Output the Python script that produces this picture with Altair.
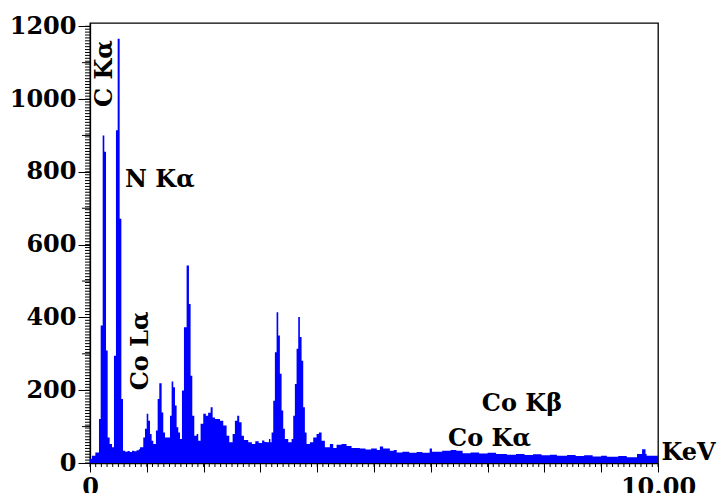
import altair as alt
import pandas as pd

kev = [0.000, 0.035, 0.094, 0.158, 0.188, 0.223, 0.252, 0.282, 0.311, 0.346,
       0.387, 0.422, 0.457, 0.487, 0.522, 0.552, 0.581, 0.620, 0.660, 0.700,
       0.740, 0.780, 0.820, 0.860, 0.880, 0.938, 0.968, 0.998, 1.026, 1.056,
       1.085, 1.114, 1.161, 1.191, 1.220, 1.261, 1.290, 1.320, 1.408, 1.437,
       1.466, 1.496, 1.525, 1.554, 1.584, 1.619, 1.654, 1.701, 1.742, 1.771,
       1.801, 1.836, 1.877, 1.906, 1.947, 1.994, 2.040, 2.080, 2.124, 2.159,
       2.200, 2.288, 2.346, 2.405, 2.452, 2.511, 2.551, 2.592, 2.627, 2.669,
       2.710, 2.786, 2.850, 2.910, 2.970, 3.030, 3.070, 3.109, 3.150, 3.175,
       3.197, 3.226, 3.255, 3.285, 3.314, 3.343, 3.373, 3.402, 3.431, 3.490,
       3.549, 3.578, 3.607, 3.637, 3.666, 3.695, 3.725, 3.754, 3.783, 3.813,
       3.871, 3.930, 3.989, 4.030, 4.077, 4.135, 4.223, 4.282, 4.341, 4.429,
       4.517, 4.605, 4.751, 4.850, 4.950, 5.050, 5.103, 5.160, 5.279, 5.350,
       5.400, 5.500, 5.620, 5.750, 5.850, 5.980, 6.020, 6.200, 6.350, 6.450,
       6.560, 6.700, 6.850, 7.000, 7.150, 7.340, 7.500, 7.650, 7.800, 7.950,
       8.100, 8.220, 8.400, 8.550, 8.700, 8.850, 9.000, 9.100, 9.300, 9.450,
       9.630, 9.720, 9.780, 9.800, 10.000]

counts = [12, 20, 29, 121, 378, 900, 855, 309, 70, 52,
          43, 295, 914, 1166, 671, 176, 34, 31, 33, 30,
          34, 32, 35, 38, 43, 70, 94, 135, 116, 80,
          61, 52, 89, 176, 219, 139, 84, 70, 130, 224,
          208, 158, 98, 84, 66, 199, 373, 543, 437, 240,
          130, 75, 80, 61, 108, 135, 130, 138, 153, 125,
          121, 116, 103, 75, 57, 80, 116, 130, 112, 75,
          63, 57, 52, 60, 55, 62, 58, 57, 66, 57,
          84, 171, 304, 414, 350, 245, 144, 94, 66, 57,
          66, 130, 217, 314, 401, 346, 281, 153, 84, 52,
          57, 70, 80, 84, 61, 43, 52, 41, 50, 52,
          47, 41, 40, 37, 40, 36, 45, 40, 34, 36,
          29, 31, 28, 30, 28, 40, 31, 34, 36, 34,
          27, 29, 26, 28, 25, 23, 25, 22, 24, 21,
          23, 20, 22, 19, 21, 18, 20, 17, 19, 16,
          25, 38, 25, 20, 20]

y_major = [0, 200, 400, 600, 800, 1000, 1200]
y_mid = [100, 300, 500, 700, 900, 1100]
y_minor = list(range(0, 1201, 8))
x_major = [0, 1, 2, 3, 4, 5, 6, 7, 8, 9, 10]
x_minor = [i / 10 for i in range(101)]

vlabel_text = ["C Kα", "Co Lα"]
vlabel_x = [0.264, 0.89]
vlabel_y = [1070, 308]

hlabel_text = ["N Kα", "Co Kβ", "Co Kα"]
hlabel_x = [0.616, 6.898, 6.305]
hlabel_y = [758, 144, 48]

W, H = 568, 440

spec = pd.DataFrame({"kev": kev, "counts": counts})
vlab = pd.DataFrame({"kev": vlabel_x, "counts": vlabel_y, "t": vlabel_text})
hlab = pd.DataFrame({"kev": hlabel_x, "counts": hlabel_y, "t": hlabel_text})
ymid_df = pd.DataFrame({"counts": y_mid})
ymin_df = pd.DataFrame({"counts": y_minor})
xmin_df = pd.DataFrame({"kev": x_minor})

FONT = "DejaVu Serif"
xscale = alt.Scale(domain=[0, 10], nice=False, zero=False)
yscale = alt.Scale(domain=[0, 1209], nice=False)

xaxis = alt.Axis(
    orient="bottom", values=x_major, tickSize=9, grid=False,
    labelExpr="datum.value == 0 ? '0' : (datum.value == 10 ? '10.00' : '')",
    labelFlush=False, labelOverlap=False, labelPadding=3,
    title="KeV", titleX=571, titleY=-4, titleAlign="left",
    titleBaseline="alphabetic", titleFontSize=24)
yaxis = alt.Axis(
    orient="left", values=y_major, tickSize=12, grid=False, title=None,
    format="d", labelPadding=2, labelOverlap=False)

X = alt.X("kev:Q", scale=xscale, axis=xaxis)
Y = alt.Y("counts:Q", scale=yscale, axis=yaxis)

area = alt.Chart(spec).mark_area(interpolate="step-after", color="#0000ff").encode(
    x=X, y=Y,
)

ymid_ticks = alt.Chart(ymid_df).mark_rule(color="black", strokeWidth=1).encode(
    y=Y, x=alt.value(-8), x2=alt.value(0),
)

ymin_ticks = alt.Chart(ymin_df).mark_rule(color="black", strokeWidth=1).encode(
    y=Y, x=alt.value(-5), x2=alt.value(0),
)

xmin_ticks = alt.Chart(xmin_df).mark_rule(color="black", strokeWidth=1).encode(
    x=X, y=alt.value(H), y2=alt.value(H + 4),
)

vtext = alt.Chart(vlab).mark_text(
    font=FONT, fontWeight="bold", fontSize=24, angle=270,
    align="center", baseline="middle", color="black").encode(
    x=X, y=Y, text="t:N",
)

htext = alt.Chart(hlab).mark_text(
    font=FONT, fontWeight="bold", fontSize=24,
    align="left", baseline="alphabetic", color="black").encode(
    x=X, y=Y, text="t:N",
)

chart = alt.layer(area, ymid_ticks, ymin_ticks, xmin_ticks, vtext, htext).properties(
    width=W, height=H,
    autosize=alt.AutoSizeParams(type="none"),
    padding={"left": 82, "top": 15, "right": 60, "bottom": 30},
    background="white",
).configure_axis(
    labelFont=FONT, labelFontWeight="bold", labelFontSize=24, labelColor="black",
    titleFont=FONT, titleFontWeight="bold", titleFontSize=24, titleColor="black",
    tickColor="black", domainColor="black", domainWidth=1.3, tickWidth=1,
).configure_view(stroke="black", strokeWidth=1.3)

chart.save("out.html", embed_options={"renderer": "svg", "actions": False})
